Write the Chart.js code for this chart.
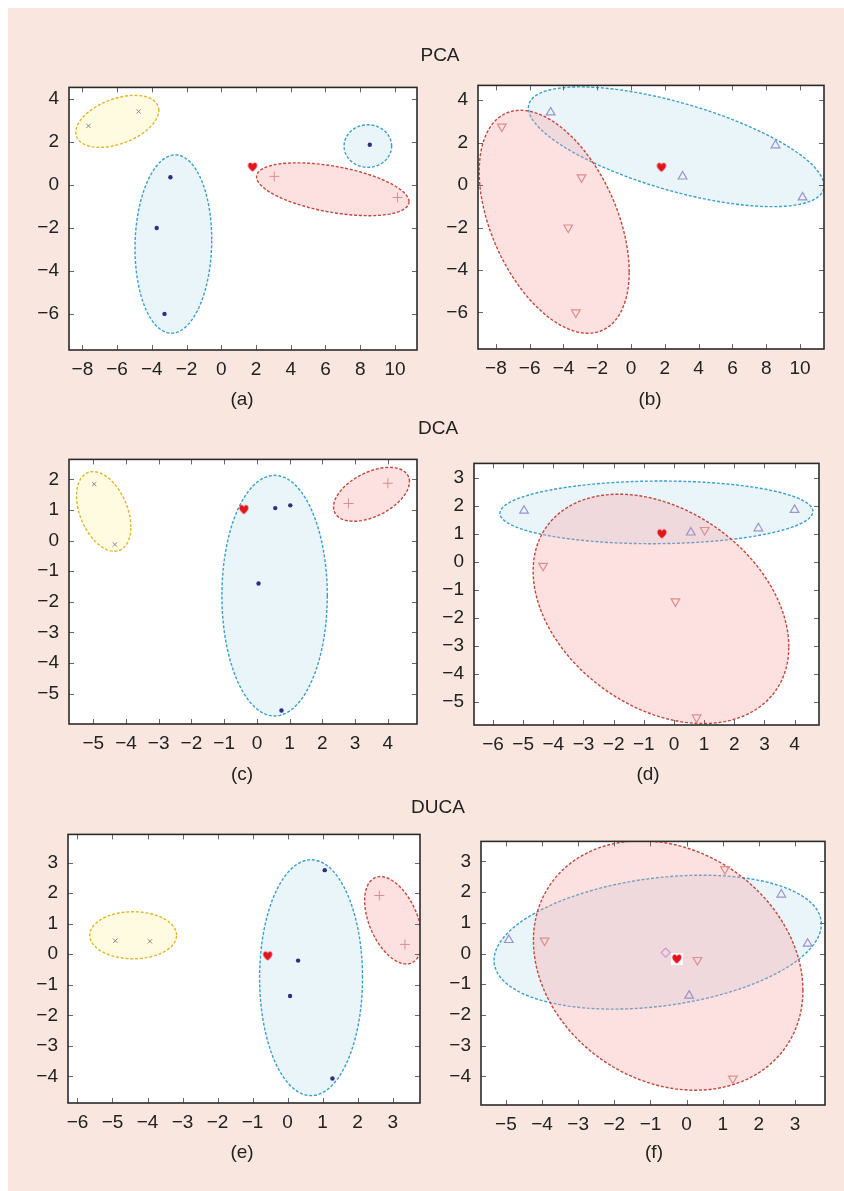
<!DOCTYPE html>
<html>
<head>
<meta charset="utf-8">
<script src="https://cdn.jsdelivr.net/npm/chart.js@4.4.1/dist/chart.umd.min.js"></script>
<style>
  html, body { margin: 0; padding: 0; background: #fff; }
  #page { position: relative; width: 844px; height: 1191px; overflow: hidden;
          font-family: "Liberation Sans", Arial, sans-serif; color: #222; }
  #bg { position: absolute; left: 8px; top: 8px; right: 0; bottom: 0; background: #f9e7df; }
  .lbl { position: absolute; font-size: 19px; transform: translate(-50%, -50%); white-space: nowrap; }
  canvas { position: absolute; }
</style>
</head>
<body>
<div id="page"><div id="bg"></div></div>
<script>
// ---- data ----
// PCA projection (panels a, b)
const pcaX = [-7.65, -4.76, -2.93, -3.72, -3.27, 8.55, 3.05, 10.15];
const pcaY = [2.75, 3.42, 0.36, -2.0, -6.0, 1.87, 0.4, -0.58];
const pcaQuery = [1.8, 0.84];

// DCA projection (panels c, d)
const dcaX = [-4.97, -4.34, 0.56, 1.02, 0.05, 0.75, 2.8, 4.0];
const dcaY = [1.84, -0.13, 1.06, 1.15, -1.40, -5.55, 1.21, 1.87];
const dcaQuery = [-0.4, 1.02];

// DUCA projection (panels e, f)
const ducaX = [-4.92, -3.93, 1.06, 0.30, 0.07, 1.28, 2.62, 3.35];
const ducaY = [0.44, 0.42, 2.75, -0.21, -1.37, -4.07, 1.92, 0.32];
const ducaQueryE = [-0.57, -0.05];
const ducaQueryF = [-0.27, -0.17];
const ducaDiamond = [-0.58, 0.03];

// point groups (indices into the arrays above)
const clusterGroups = { gray: [0, 1], dot: [2, 3, 4, 5], plus: [6, 7] };
const pcaClass = { down: [0, 2, 3, 4], up: [1, 5, 6, 7] };
const dcaClass = { down: [1, 3, 4, 5], up: [0, 2, 6, 7] };
const ducaClass = { down: [1, 2, 3, 5], up: [0, 4, 6, 7] };

// ellipses: [centerX, centerY, halfWidth, halfHeight, correlation]
const ellA = [[-5.99, 2.96, 2.39, 1.21, 0.42], [-2.76, -2.75, 2.21, 4.15, 0.05],
              [8.44, 1.81, 1.37, 0.99, 0], [6.42, -0.20, 4.39, 1.23, -0.47]];
const ellB = [[-4.55, -1.73, 4.44, 5.25, -0.45], [2.67, 1.80, 8.75, 2.82, -0.65]];
const ellC = [[-4.68, 0.95, 0.83, 1.30, -0.39], [0.54, -1.80, 1.61, 3.93, 0],
              [3.50, 1.51, 1.16, 0.88, 0.47]];
const ellD = [[-0.43, -1.67, 4.24, 4.10, -0.33], [-0.58, 1.78, 5.19, 1.12, 0.03]];
const ellE = [[-4.41, 0.62, 1.24, 0.77, 0], [0.67, -0.77, 1.47, 3.86, 0],
              [3.02, 1.11, 0.82, 1.43, -0.45]];
const ellF = [[-0.51, -0.39, 3.73, 4.06, -0.2], [-0.80, 0.37, 4.53, 2.18, 0.27]];

// axis ranges and ticks
const axA = { x: [-8.77, 11.27], y: [-7.68, 4.54] };
const axB = { x: [-9.06, 11.42], y: [-7.72, 4.69] };
const axC = { x: [-5.74, 4.89], y: [-5.99, 2.65] };
const axD = { x: [-6.63, 4.81], y: [-5.82, 3.53] };
const axE = { x: [-6.27, 3.78], y: [-4.87, 3.92] };
const axF = { x: [-5.69, 3.83], y: [-4.93, 3.65] };
const pcaXTicks = [-8, -6, -4, -2, 0, 2, 4, 6, 8, 10];
const pcaYTicks = [-6, -4, -2, 0, 2, 4];
const cXTicks = [-5, -4, -3, -2, -1, 0, 1, 2, 3, 4];
const cYTicks = [-5, -4, -3, -2, -1, 0, 1, 2];
const dXTicks = [-6, -5, -4, -3, -2, -1, 0, 1, 2, 3, 4];
const dYTicks = [-5, -4, -3, -2, -1, 0, 1, 2, 3];
const eXTicks = [-6, -5, -4, -3, -2, -1, 0, 1, 2, 3];
const fXTicks = [-5, -4, -3, -2, -1, 0, 1, 2, 3];
const ducaYTicks = [-4, -3, -2, -1, 0, 1, 2, 3];

// ---- styling ----
const FONT = '"Liberation Sans", Arial, sans-serif';
const ellStyle = {
  yellow: { line: '#e3b52c', fill: 'rgba(255,243,170,0.35)' },
  blue:   { line: '#3a9fd0', fill: 'rgba(175,218,236,0.26)' },
  red:    { line: '#c4473b', fill: 'rgba(248,160,160,0.33)' }
};

function heartCanvas(withBg) {
  const c = document.createElement('canvas');
  c.width = 12; c.height = 12;
  const g = c.getContext('2d');
  if (withBg) { g.fillStyle = '#fff'; g.fillRect(0, 0, 12, 12); }
  g.fillStyle = '#e3141b';
  g.beginPath();
  g.moveTo(6, 10.8);
  g.bezierCurveTo(1.5, 7.4, 0.9, 5, 1.8, 3.1);
  g.bezierCurveTo(2.8, 1.2, 5.4, 1.4, 6, 3.7);
  g.bezierCurveTo(6.6, 1.4, 9.2, 1.2, 10.2, 3.1);
  g.bezierCurveTo(11.1, 5, 10.5, 7.4, 6, 10.8);
  g.fill();
  return c;
}

function pick(xs, ys, idx) { return idx.map(i => ({ x: xs[i], y: ys[i] })); }

function ellipsePoints(e) {
  const [cx, cy, w, h, r] = e;
  const s = Math.sqrt(1 - r * r);
  const pts = [];
  for (let i = 0; i <= 120; i++) {
    const t = (i / 120) * Math.PI * 2;
    pts.push({ x: cx + w * Math.cos(t), y: cy + h * (r * Math.cos(t) + s * Math.sin(t)) });
  }
  return pts;
}

function ellipseSet(e, color) {
  const st = ellStyle[color];
  return {
    data: ellipsePoints(e), showLine: true, pointRadius: 0, tension: 0,
    borderColor: st.line, borderWidth: 1.4, borderDash: [3, 1.8],
    backgroundColor: st.fill, fill: 'shape', order: 2
  };
}

const markerStyle = {
  gray: { pointStyle: 'crossRot', pointRadius: 3, borderColor: '#8a8a8a', borderWidth: 1 },
  dot:  { pointStyle: 'circle', pointRadius: 2.2, borderColor: '#2d2f80', backgroundColor: '#2d2f80', borderWidth: 0 },
  plus: { pointStyle: 'cross', pointRadius: 5, borderColor: '#d98f8f', borderWidth: 1 },
  up:   { pointStyle: 'triangle', pointRadius: 5, borderColor: '#9a94c8', backgroundColor: 'rgba(0,0,0,0)', borderWidth: 1.2 },
  down: { pointStyle: 'triangle', rotation: 180, pointRadius: 5, borderColor: '#de8e8e', backgroundColor: 'rgba(0,0,0,0)', borderWidth: 1.2 },
  diamond: { pointStyle: 'rectRot', pointRadius: 4.5, borderColor: '#c99ac9', backgroundColor: 'rgba(0,0,0,0)', borderWidth: 1.2 }
};

function markerSet(pts, kind) {
  return Object.assign({ data: pts, showLine: false, order: 0 }, markerStyle[kind]);
}

function heartSet(q, withBg) {
  return { data: [{ x: q[0], y: q[1] }], pointStyle: heartCanvas(withBg), order: 0 };
}

// frame with inward tick marks on all four sides, white plot area
const framePlugin = {
  id: 'frame',
  beforeDraw(chart) {
    const { ctx, chartArea: a } = chart;
    ctx.save();
    ctx.fillStyle = '#fff';
    ctx.fillRect(a.left, a.top, a.right - a.left, a.bottom - a.top);
    ctx.restore();
  },
  afterDraw(chart) {
    const { ctx, chartArea: a, scales } = chart;
    ctx.save();
    ctx.strokeStyle = '#666';
    ctx.lineWidth = 1;
    ctx.beginPath();
    scales.x.ticks.forEach(t => {
      const p = Math.round(scales.x.getPixelForValue(t.value)) + 0.5;
      ctx.moveTo(p, a.bottom); ctx.lineTo(p, a.bottom - 5);
      ctx.moveTo(p, a.top); ctx.lineTo(p, a.top + 5);
    });
    scales.y.ticks.forEach(t => {
      const p = Math.round(scales.y.getPixelForValue(t.value)) + 0.5;
      ctx.moveTo(a.left, p); ctx.lineTo(a.left + 5, p);
      ctx.moveTo(a.right, p); ctx.lineTo(a.right - 5, p);
    });
    ctx.stroke();
    ctx.strokeStyle = '#2b2b2b';
    ctx.lineWidth = 1.6;
    ctx.strokeRect(a.left, a.top, a.right - a.left, a.bottom - a.top);
    ctx.restore();
  }
};

const fmt = v => (v < 0 ? '\u2212' + Math.abs(v) : String(v));

function makePanel(rect, ax, xTicks, yTicks, datasets) {
  const [L, T, R, B] = rect;
  const padL = 60, padT = 12, padR = 22, padB = 45;
  const cv = document.createElement('canvas');
  cv.width = R - L + padL + padR;
  cv.height = B - T + padT + padB;
  cv.style.left = (L - padL) + 'px';
  cv.style.top = (T - padT) + 'px';
  cv.style.width = cv.width + 'px';
  cv.style.height = cv.height + 'px';
  document.getElementById('page').appendChild(cv);
  const tickFont = { family: FONT, size: 19 };
  new Chart(cv, {
    type: 'scatter',
    data: { datasets: datasets },
    options: {
      responsive: false, animation: false, devicePixelRatio: 1,
      layout: { padding: { left: 0, top: padT, right: padR, bottom: 0 } },
      plugins: { legend: { display: false }, tooltip: { enabled: false } },
      scales: {
        x: {
          type: 'linear', min: ax.x[0], max: ax.x[1],
          afterFit: s => { s.height = padB; },
          afterBuildTicks: s => { s.ticks = xTicks.map(v => ({ value: v })); },
          grid: { display: false, drawTicks: false }, border: { display: false },
          ticks: { autoSkip: false, maxRotation: 0, padding: 8, color: '#222', font: tickFont, callback: fmt }
        },
        y: {
          type: 'linear', min: ax.y[0], max: ax.y[1],
          afterFit: s => { s.width = padL; },
          afterBuildTicks: s => { s.ticks = yTicks.map(v => ({ value: v })); },
          grid: { display: false, drawTicks: false }, border: { display: false },
          ticks: { autoSkip: false, padding: 10, color: '#222', font: tickFont, callback: fmt }
        }
      }
    },
    plugins: [framePlugin]
  });
}

function addLabel(text, x, y) {
  const d = document.createElement('div');
  d.className = 'lbl';
  d.textContent = text;
  d.style.left = x + 'px';
  d.style.top = y + 'px';
  document.getElementById('page').appendChild(d);
}

Chart.defaults.font.family = FONT;

// (a) PCA clusters
makePanel([69, 78, 417, 350], axA, pcaXTicks, pcaYTicks, [
  heartSet(pcaQuery, false),
  markerSet(pick(pcaX, pcaY, clusterGroups.gray), 'gray'),
  markerSet(pick(pcaX, pcaY, clusterGroups.dot), 'dot'),
  markerSet(pick(pcaX, pcaY, clusterGroups.plus), 'plus'),
  ellipseSet(ellA[0], 'yellow'), ellipseSet(ellA[1], 'blue'),
  ellipseSet(ellA[2], 'blue'), ellipseSet(ellA[3], 'red')
]);
// (b) PCA classes
makePanel([478, 76, 824, 349], axB, pcaXTicks, pcaYTicks, [
  heartSet(pcaQuery, false),
  markerSet(pick(pcaX, pcaY, pcaClass.up), 'up'),
  markerSet(pick(pcaX, pcaY, pcaClass.down), 'down'),
  ellipseSet(ellB[0], 'red'), ellipseSet(ellB[1], 'blue')
]);
// (c) DCA clusters
makePanel([69, 450, 417, 724], axC, cXTicks, cYTicks, [
  heartSet(dcaQuery, false),
  markerSet(pick(dcaX, dcaY, clusterGroups.gray), 'gray'),
  markerSet(pick(dcaX, dcaY, clusterGroups.dot), 'dot'),
  markerSet(pick(dcaX, dcaY, clusterGroups.plus), 'plus'),
  ellipseSet(ellC[0], 'yellow'), ellipseSet(ellC[1], 'blue'), ellipseSet(ellC[2], 'red')
]);
// (d) DCA classes
makePanel([474, 454, 819, 725], axD, dXTicks, dYTicks, [
  heartSet(dcaQuery, false),
  markerSet(pick(dcaX, dcaY, dcaClass.up), 'up'),
  markerSet(pick(dcaX, dcaY, dcaClass.down), 'down'),
  ellipseSet(ellD[0], 'red'), ellipseSet(ellD[1], 'blue')
]);
// (e) DUCA clusters
makePanel([68, 825, 420, 1103], axE, eXTicks, ducaYTicks, [
  heartSet(ducaQueryE, false),
  markerSet(pick(ducaX, ducaY, clusterGroups.gray), 'gray'),
  markerSet(pick(ducaX, ducaY, clusterGroups.dot), 'dot'),
  markerSet(pick(ducaX, ducaY, clusterGroups.plus), 'plus'),
  ellipseSet(ellE[0], 'yellow'), ellipseSet(ellE[1], 'blue'), ellipseSet(ellE[2], 'red')
]);
// (f) DUCA classes
makePanel([481, 832, 825, 1105], axF, fXTicks, ducaYTicks, [
  heartSet(ducaQueryF, true),
  markerSet([{ x: ducaDiamond[0], y: ducaDiamond[1] }], 'diamond'),
  markerSet(pick(ducaX, ducaY, ducaClass.up), 'up'),
  markerSet(pick(ducaX, ducaY, ducaClass.down), 'down'),
  ellipseSet(ellF[0], 'red'), ellipseSet(ellF[1], 'blue')
]);

addLabel('PCA', 440, 55);
addLabel('DCA', 438, 428);
addLabel('DUCA', 438, 807);
addLabel('(a)', 242, 399);
addLabel('(b)', 650, 399);
addLabel('(c)', 242, 774);
addLabel('(d)', 648, 774);
addLabel('(e)', 242, 1152);
addLabel('(f)', 654, 1152);
</script>
</body>
</html>
